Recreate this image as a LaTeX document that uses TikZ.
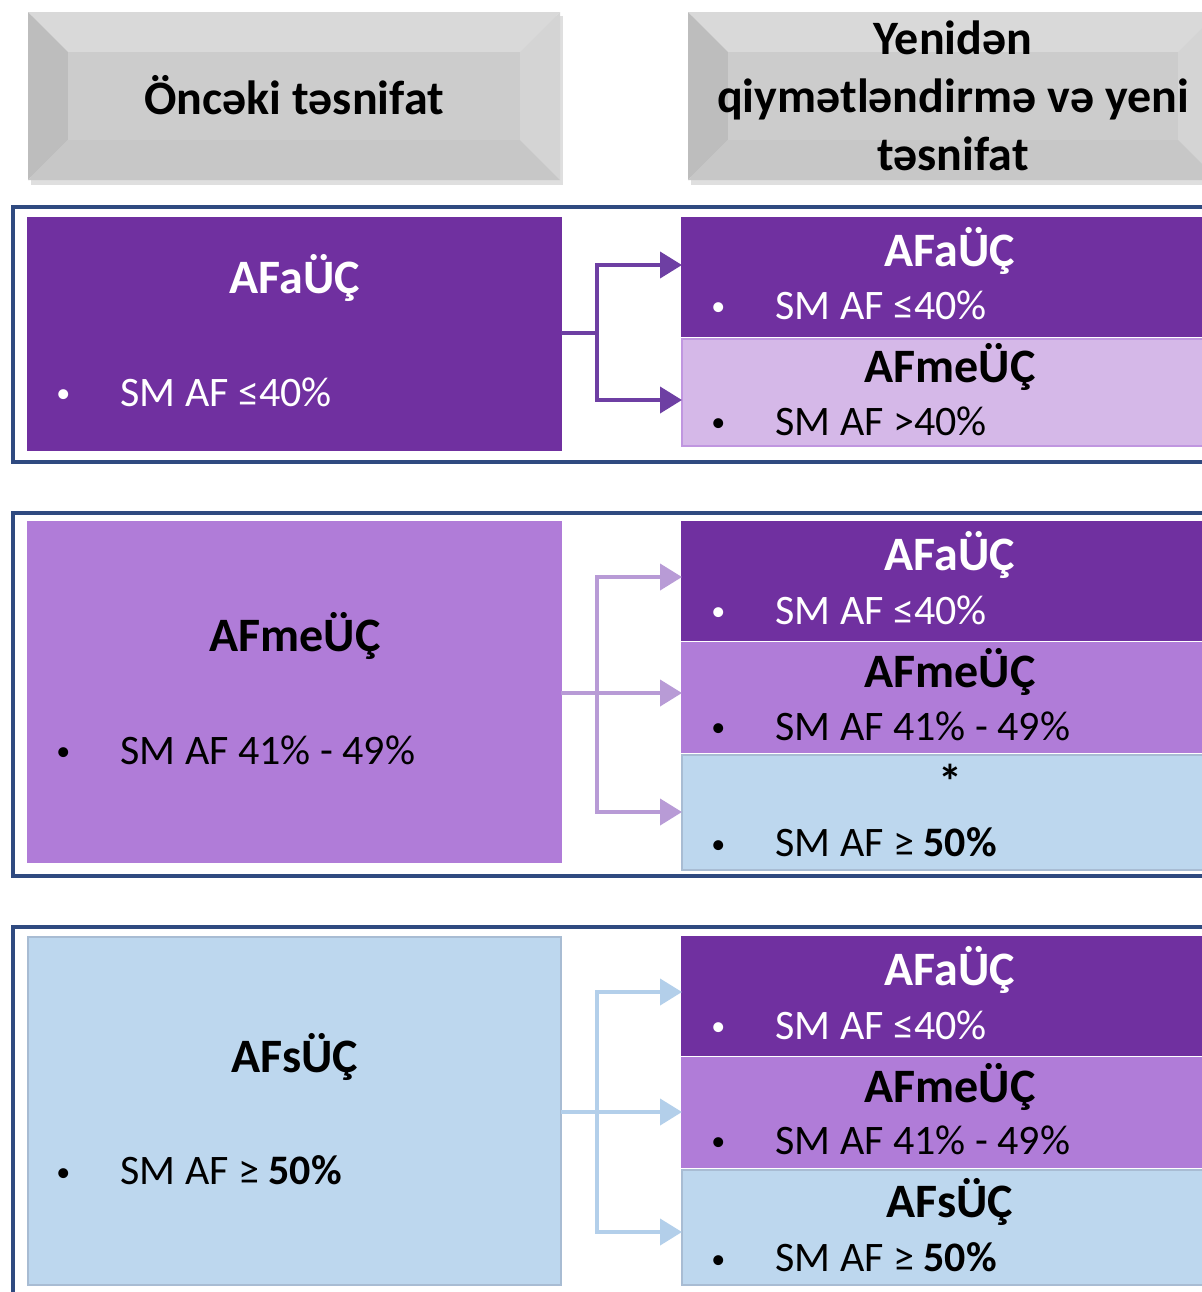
\documentclass[tikz,border=0pt]{standalone}
\usepackage{fontspec}
\setmainfont{Carlito}
\usetikzlibrary{arrows.meta,fit}
\definecolor{afa}{HTML}{7030A0}
\definecolor{afme}{HTML}{B07CD8}
\definecolor{afmelt}{HTML}{D5B8E8}
\definecolor{afs}{HTML}{BDD7EE}
\definecolor{afsline}{HTML}{A8BCD3}
\definecolor{frameblue}{HTML}{2F4A80}
\definecolor{arrone}{HTML}{6E3FA3}
\definecolor{arrtwo}{HTML}{B89BD6}
\definecolor{arrthree}{HTML}{B3CFEA}
\tikzset{
  box/.style={inner sep=0pt, outer sep=0pt, line width=0.8pt},
  ttl/.style={font=\fontsize{24}{29}\selectfont\bfseries, inner sep=0pt},
  blt/.style={font=\fontsize{21}{25}\selectfont, anchor=west, inner sep=0pt},
  frame/.style={draw=frameblue, line width=1.7pt},
  link/.style={draw=#1, line width=2pt, -{Triangle[length=11pt,width=13pt]}},
  trunk/.style={draw=#1, line width=2pt}
}
\newcommand{\bul}[1]{\makebox[35pt][l]{\hspace{3pt}\raisebox{1.6pt}{\fontsize{14}{14}\selectfont\textbullet}}#1}
\begin{document}
\begin{tikzpicture}[x=0.5pt,y=-0.5pt]
\clip (0,0) rectangle (1202,1292);
\fill[white] (0,0) rectangle (1202,1292);

% header bevels
\foreach \xa/\xb in {28/560, 688/1218}{
  \fill[gray!25] (\xa+3,16) rectangle (\xb+3,185);
  \fill[gray!30] (\xa,12) -- (\xb,12) -- (\xb-40,52) -- (\xa+40,52) -- cycle;
  \fill[gray!52] (\xa,12) -- (\xa+40,52) -- (\xa+40,140) -- (\xa,180) -- cycle;
  \fill[gray!34] (\xb,12) -- (\xb-40,52) -- (\xb-40,140) -- (\xb,180) -- cycle;
  \fill[gray!44] (\xa,180) -- (\xa+40,140) -- (\xb-40,140) -- (\xb,180) -- cycle;
  \fill[gray!40] (\xa+40,52) rectangle (\xb-40,140);
}
\node[ttl] (hold) at (294,95) {Öncəki təsnifat};
\node[ttl, align=center] (hnew) at (953,96) {Yenidən\\qiymətləndirmə və yeni\\təsnifat};

% group 1
\draw[frame] (13,207) rectangle (1230,462);
\node[box, fill=afa, draw=afa, fit={(28,218) (561,450)}] (l1) {};
\node[ttl, text=white] (l1t) at (295,278) {AFaÜÇ};
\node[blt, text=white] (l1b) at (50,392) {\bul{SM AF ≤40\%}};
\node[box, fill=afa, draw=afa, fit={(682,218) (1230,336)}] (r1a) {};
\node[ttl, text=white] (r1at) at (950,251) {AFaÜÇ};
\node[blt, text=white] (r1ab) at (705,305) {\bul{SM AF ≤40\%}};
\node[box, fill=afmelt, draw=afme!80, fit={(682,339) (1230,446)}] (r1b) {};
\node[ttl] (r1bt) at (950,367) {AFmeÜÇ};
\node[blt] (r1bb) at (705,421) {\bul{SM AF >40\%}};
\coordinate (j1) at (597,333);
\coordinate (y1a) at (0,265);
\coordinate (y1b) at (0,400);
\draw[trunk=arrone] (l1.east |- j1) -- (j1);
\draw[link=arrone] (j1) |- (r1a.west |- y1a);
\draw[link=arrone] (j1) |- (r1b.west |- y1b);

% group 2
\draw[frame] (13,513) rectangle (1230,876);
\node[box, fill=afme, draw=afme, fit={(28,522) (561,862)}] (l2) {};
\node[ttl] (l2t) at (295,636) {AFmeÜÇ};
\node[blt] (l2b) at (50,750) {\bul{SM AF 41\% - 49\%}};
\node[box, fill=afa, draw=afa, fit={(682,522) (1230,640)}] (r2a) {};
\node[ttl, text=white] (r2at) at (950,555) {AFaÜÇ};
\node[blt, text=white] (r2ab) at (705,610) {\bul{SM AF ≤40\%}};
\node[box, fill=afme, draw=afme, fit={(682,643) (1230,752)}] (r2b) {};
\node[ttl] (r2bt) at (950,672) {AFmeÜÇ};
\node[blt] (r2bb) at (705,726) {\bul{SM AF 41\% - 49\%}};
\node[box, fill=afs, draw=afsline, fit={(682,755) (1230,870)}] (r2c) {};
\node[ttl] (r2ct) at (950,781) {*};
\node[blt] (r2cb) at (705,842) {\bul{SM AF ≥ \textbf{50\%}}};
\coordinate (j2) at (597,693);
\coordinate (y2a) at (0,577);
\coordinate (y2c) at (0,812);
\draw[trunk=arrtwo] (l2.east |- j2) -- (j2);
\draw[link=arrtwo] (j2) |- (r2a.west |- y2a);
\draw[link=arrtwo] (j2) -- (r2b.west |- j2);
\draw[link=arrtwo] (j2) |- (r2c.west |- y2c);

% group 3
\draw[frame] (13,927) rectangle (1230,1320);
\node[box, fill=afs, draw=afsline, fit={(28,937) (561,1285)}] (l3) {};
\node[ttl] (l3t) at (295,1057) {AFsÜÇ};
\node[blt] (l3b) at (50,1170) {\bul{SM AF ≥ \textbf{50\%}}};
\node[box, fill=afa, draw=afa, fit={(682,937) (1230,1055)}] (r3a) {};
\node[ttl, text=white] (r3at) at (950,970) {AFaÜÇ};
\node[blt, text=white] (r3ab) at (705,1025) {\bul{SM AF ≤40\%}};
\node[box, fill=afme, draw=afme, fit={(682,1058) (1230,1167)}] (r3b) {};
\node[ttl] (r3bt) at (950,1087) {AFmeÜÇ};
\node[blt] (r3bb) at (705,1140) {\bul{SM AF 41\% - 49\%}};
\node[box, fill=afs, draw=afsline, fit={(682,1170) (1230,1285)}] (r3c) {};
\node[ttl] (r3ct) at (950,1202) {AFsÜÇ};
\node[blt] (r3cb) at (705,1257) {\bul{SM AF ≥ \textbf{50\%}}};
\coordinate (j3) at (597,1112);
\coordinate (y3a) at (0,992);
\coordinate (y3c) at (0,1232);
\draw[trunk=arrthree] (l3.east |- j3) -- (j3);
\draw[link=arrthree] (j3) |- (r3a.west |- y3a);
\draw[link=arrthree] (j3) -- (r3b.west |- j3);
\draw[link=arrthree] (j3) |- (r3c.west |- y3c);
\end{tikzpicture}
\end{document}
